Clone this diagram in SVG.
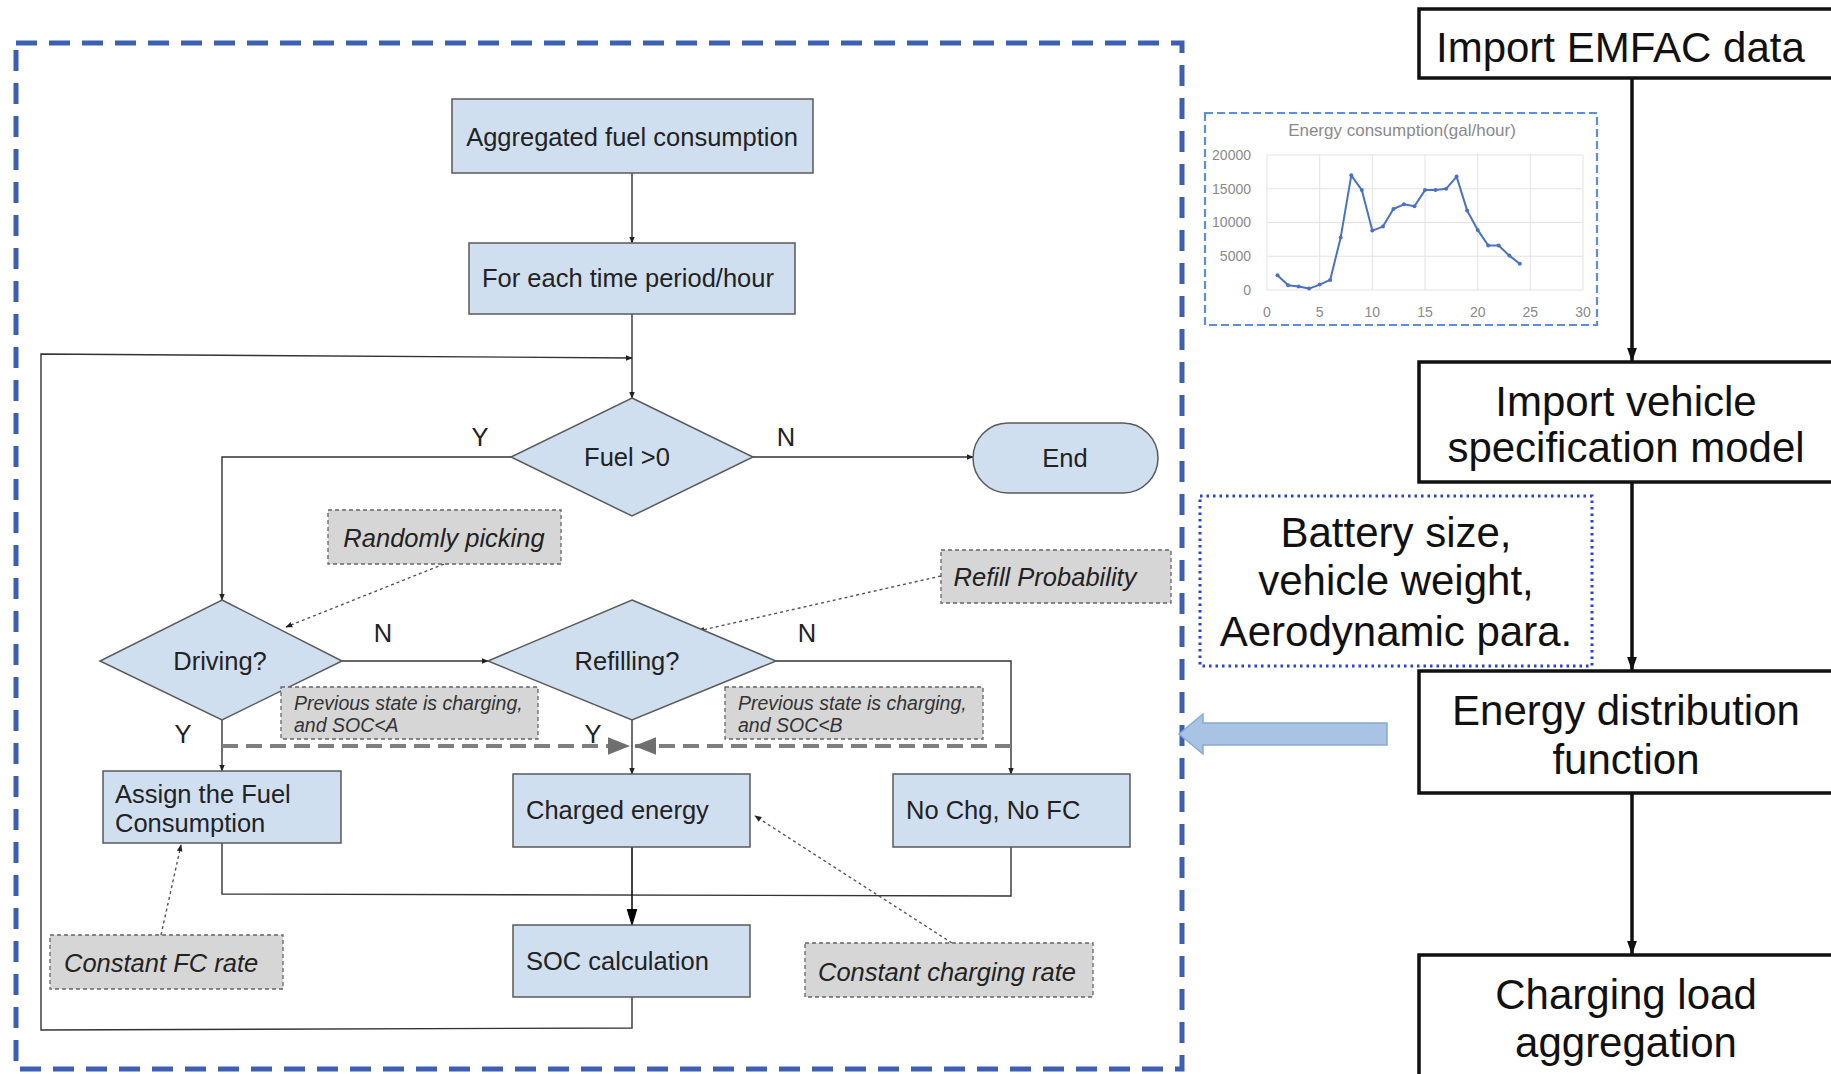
<svg xmlns="http://www.w3.org/2000/svg" width="1831" height="1074" viewBox="0 0 1831 1074">
<defs>
<style>
.box{fill:#cfdff0;stroke:#5a5a5a;stroke-width:1.5}
.note{fill:#d6d6d6;stroke:#666;stroke-width:1.3;stroke-dasharray:4 3}
.t{font-family:"Liberation Sans",Arial,sans-serif;font-size:25.5px;fill:#222}
.ti{font-family:"Liberation Sans",Arial,sans-serif;font-size:25.5px;font-style:italic;fill:#222}
.ts{font-family:"Liberation Sans",Arial,sans-serif;font-size:19.5px;font-style:italic;fill:#333}
.big{font-family:"Liberation Sans",Arial,sans-serif;font-size:42px;fill:#111}
.bbox{fill:#fff;stroke:#111;stroke-width:3.5}
.ln{fill:none;stroke:#333;stroke-width:1.4}
.dot{fill:none;stroke:#555;stroke-width:1.4;stroke-dasharray:3 3}
.gd{fill:none;stroke:#7f7f7f;stroke-width:4;stroke-dasharray:16 8}
.bl{fill:none;stroke:#111;stroke-width:3.5}
.ax{font-family:"Liberation Sans",Arial,sans-serif;font-size:14px;fill:#8a8a8a}
.axt{font-family:"Liberation Sans",Arial,sans-serif;font-size:17px;fill:#8a8a8a}
.grid{stroke:#e3e3e3;stroke-width:1}
</style>
<marker id="a" viewBox="0 0 10 10" refX="9" refY="5" markerWidth="7" markerHeight="7" markerUnits="userSpaceOnUse" orient="auto"><path d="M0,1 L10,5 L0,9 z" fill="#222"/></marker>
<marker id="ab" viewBox="0 0 10 10" refX="9" refY="5" markerWidth="18" markerHeight="18" markerUnits="userSpaceOnUse" orient="auto"><path d="M0,2 L10,5 L0,8 z" fill="#000"/></marker>
<marker id="ag" viewBox="0 0 10 10" refX="10" refY="5" markerWidth="22" markerHeight="22" markerUnits="userSpaceOnUse" orient="auto"><path d="M0,1 L10,5 L0,9 z" fill="#6f6f6f"/></marker>
<marker id="ak" viewBox="0 0 10 10" refX="10" refY="5" markerWidth="14" markerHeight="14" markerUnits="userSpaceOnUse" orient="auto"><path d="M0,1.5 L10,5 L0,8.5 z" fill="#111"/></marker>
</defs>
<rect width="1831" height="1074" fill="#fff"/>

<rect x="16" y="43" width="1166" height="1026" fill="none" stroke="#3d5fb2" stroke-width="5" stroke-dasharray="21 12"/>

<g id="connectors">
<line class="ln" x1="632" y1="173" x2="632" y2="243" marker-end="url(#a)"/>
<line class="ln" x1="632" y1="314" x2="632" y2="398" marker-end="url(#a)"/>
<polyline class="ln" points="753,457 973,457" marker-end="url(#a)"/>
<polyline class="ln" points="511,457 222,457 222,600" marker-end="url(#a)"/>
<line class="ln" x1="342" y1="661" x2="488" y2="661" marker-end="url(#a)"/>
<polyline class="ln" points="776,661 1011,661 1011,774" marker-end="url(#a)"/>
<line class="ln" x1="222" y1="720" x2="222" y2="771" marker-end="url(#a)"/>
<line class="ln" x1="632" y1="720" x2="632" y2="774" marker-end="url(#a)"/>
<polyline class="ln" points="222,843 222,894 1011,896 1011,847"/>
<line x1="632" y1="847" x2="632" y2="925" stroke="#111" stroke-width="1.6" marker-end="url(#ab)"/>
<polyline class="ln" points="632,997 632,1028 41,1030 41,354 632,358" marker-end="url(#a)"/>
<line class="gd" x1="222" y1="746" x2="630" y2="746" marker-end="url(#ag)"/>
<line class="gd" x1="1011" y1="746" x2="634" y2="746" marker-end="url(#ag)"/>
<line class="dot" x1="444" y1="564" x2="286" y2="627" marker-end="url(#a)"/>
<line class="dot" x1="941" y1="576" x2="698" y2="631" marker-end="url(#a)"/>
<line class="dot" x1="161" y1="935" x2="181" y2="845" marker-end="url(#a)"/>
<line class="dot" x1="952" y1="943" x2="755" y2="816" marker-end="url(#a)"/>
<line class="bl" x1="1632" y1="78" x2="1632" y2="362" marker-end="url(#ak)"/>
<line class="bl" x1="1632" y1="482" x2="1632" y2="671" marker-end="url(#ak)"/>
<line class="bl" x1="1632" y1="793" x2="1632" y2="955" marker-end="url(#ak)"/>
</g>

<g id="labels">
<text class="t" x="480" y="446" text-anchor="middle">Y</text>
<text class="t" x="786" y="446" text-anchor="middle">N</text>
<text class="t" x="383" y="642" text-anchor="middle">N</text>
<text class="t" x="807" y="642" text-anchor="middle">N</text>
<text class="t" x="183" y="743" text-anchor="middle">Y</text>
<text class="t" x="593" y="743" text-anchor="middle">Y</text>
</g>

<g id="n-aggregated"><rect class="box" x="452" y="99" width="361" height="74"/><text class="t" x="632" y="146" text-anchor="middle">Aggregated fuel consumption</text></g>
<g id="n-foreach"><rect class="box" x="469" y="243" width="326" height="71"/><text class="t" x="482" y="287">For each time period/hour</text></g>
<g id="n-fuel"><polygon class="box" points="632,398 753,457 632,516 511,457"/><text class="t" x="627" y="466" text-anchor="middle">Fuel &gt;0</text></g>
<g id="n-end"><rect class="box" x="973" y="423" width="185" height="70" rx="35"/><text class="t" x="1065" y="467" text-anchor="middle">End</text></g>
<g id="n-driving"><polygon class="box" points="222,600 342,661 222,720 100,661"/><text class="t" x="220" y="670" text-anchor="middle">Driving?</text></g>
<g id="n-refilling"><polygon class="box" points="632,600 776,661 632,720 488,661"/><text class="t" x="627" y="670" text-anchor="middle">Refilling?</text></g>
<g id="n-random"><rect class="note" x="328" y="510" width="233" height="54"/><text class="ti" x="444" y="547" text-anchor="middle">Randomly picking</text></g>
<g id="n-refillprob"><rect class="note" x="941" y="550" width="230" height="53"/><text class="ti" x="1045" y="586" text-anchor="middle">Refill Probability</text></g>
<g id="n-prevA"><rect class="note" x="281" y="687" width="257" height="52"/><text class="ts" x="294" y="710">Previous state is charging,</text><text class="ts" x="294" y="732">and SOC&lt;A</text></g>
<g id="n-prevB"><rect class="note" x="725" y="687" width="258" height="52"/><text class="ts" x="738" y="710">Previous state is charging,</text><text class="ts" x="738" y="732">and SOC&lt;B</text></g>
<g id="n-assign"><rect class="box" x="103" y="771" width="238" height="72"/><text class="t" x="115" y="803">Assign the Fuel</text><text class="t" x="115" y="832">Consumption</text></g>
<g id="n-charged"><rect class="box" x="513" y="774" width="237" height="73"/><text class="t" x="526" y="819">Charged energy</text></g>
<g id="n-nochg"><rect class="box" x="893" y="774" width="237" height="73"/><text class="t" x="906" y="819">No Chg, No FC</text></g>
<g id="n-soc"><rect class="box" x="513" y="925" width="237" height="72"/><text class="t" x="526" y="970">SOC calculation</text></g>
<g id="n-fcrate"><rect class="note" x="50" y="935" width="233" height="54"/><text class="ti" x="64" y="972">Constant FC rate</text></g>
<g id="n-chgrate"><rect class="note" x="805" y="943" width="288" height="54"/><text class="ti" x="818" y="981">Constant charging rate</text></g>

<g id="n-bigarrow"><polygon points="1387,723 1203,723 1203,714 1179,734 1203,754 1203,745 1387,745" fill="#a9c3e4" stroke="#8aa8d4" stroke-width="1.5"/></g>

<g id="n-chart">
<rect x="1205" y="113" width="392" height="212" fill="#fff" stroke="#5b8fdb" stroke-width="2.2" stroke-dasharray="8 4"/>
<text class="axt" x="1402" y="136" text-anchor="middle">Energy consumption(gal/hour)</text>
<g class="grid">
<line x1="1267" y1="155" x2="1583" y2="155"/><line x1="1267" y1="188.75" x2="1583" y2="188.75"/><line x1="1267" y1="222.5" x2="1583" y2="222.5"/><line x1="1267" y1="256.25" x2="1583" y2="256.25"/><line x1="1267" y1="290" x2="1583" y2="290"/>
<line x1="1267" y1="155" x2="1267" y2="290"/><line x1="1319.7" y1="155" x2="1319.7" y2="290"/><line x1="1372.3" y1="155" x2="1372.3" y2="290"/><line x1="1425" y1="155" x2="1425" y2="290"/><line x1="1477.7" y1="155" x2="1477.7" y2="290"/><line x1="1530.3" y1="155" x2="1530.3" y2="290"/><line x1="1583" y1="155" x2="1583" y2="290"/>
</g>
<g class="ax" text-anchor="end">
<text x="1251" y="160">20000</text><text x="1251" y="194">15000</text><text x="1251" y="227">10000</text><text x="1251" y="261">5000</text><text x="1251" y="295">0</text>
</g>
<g class="ax" text-anchor="middle">
<text x="1267" y="317">0</text><text x="1319.7" y="317">5</text><text x="1372.3" y="317">10</text><text x="1425" y="317">15</text><text x="1477.7" y="317">20</text><text x="1530.3" y="317">25</text><text x="1583" y="317">30</text>
</g>
<polyline fill="none" stroke="#4a72c4" stroke-width="2" stroke-linejoin="round" points="1277.5,275.2 1288.1,285.3 1298.6,286.6 1309.1,288.6 1319.7,284.6 1330.2,279.9 1340.7,237.4 1351.3,175.3 1361.8,190.1 1372.3,230.6 1382.9,226.6 1393.4,209 1403.9,204.3 1414.5,206.3 1425,190.1 1435.5,190.1 1446.1,188.8 1456.6,176.6 1467.1,210.4 1477.7,229.9 1488.2,245.5 1498.7,245.5 1509.3,255.6 1519.8,263.7"/>
<g fill="#4a72c4">
<circle cx="1277.5" cy="275.2" r="2"/><circle cx="1288.1" cy="285.3" r="2"/><circle cx="1298.6" cy="286.6" r="2"/><circle cx="1309.1" cy="288.6" r="2"/><circle cx="1319.7" cy="284.6" r="2"/><circle cx="1330.2" cy="279.9" r="2"/><circle cx="1340.7" cy="237.4" r="2"/><circle cx="1351.3" cy="175.3" r="2"/><circle cx="1361.8" cy="190.1" r="2"/><circle cx="1372.3" cy="230.6" r="2"/><circle cx="1382.9" cy="226.6" r="2"/><circle cx="1393.4" cy="209" r="2"/><circle cx="1403.9" cy="204.3" r="2"/><circle cx="1414.5" cy="206.3" r="2"/><circle cx="1425" cy="190.1" r="2"/><circle cx="1435.5" cy="190.1" r="2"/><circle cx="1446.1" cy="188.8" r="2"/><circle cx="1456.6" cy="176.6" r="2"/><circle cx="1467.1" cy="210.4" r="2"/><circle cx="1477.7" cy="229.9" r="2"/><circle cx="1488.2" cy="245.5" r="2"/><circle cx="1498.7" cy="245.5" r="2"/><circle cx="1509.3" cy="255.6" r="2"/><circle cx="1519.8" cy="263.7" r="2"/>
</g>
</g>

<g id="n-battery"><rect x="1200" y="496" width="392" height="170" fill="#fff" stroke="#2a3fe0" stroke-width="3" stroke-dasharray="2.5 4"/>
<text class="big" x="1396" y="547" text-anchor="middle">Battery size,</text>
<text class="big" x="1396" y="595" text-anchor="middle">vehicle weight,</text>
<text class="big" x="1396" y="646" text-anchor="middle">Aerodynamic para.</text></g>

<g id="n-emfac"><rect class="bbox" x="1419" y="9" width="420" height="69"/><text class="big" x="1436" y="62">Import EMFAC data</text></g>
<g id="n-vehicle"><rect class="bbox" x="1419" y="362" width="420" height="120"/><text class="big" x="1626" y="416" text-anchor="middle">Import vehicle</text><text class="big" x="1626" y="462" text-anchor="middle">specification model</text></g>
<g id="n-energy"><rect class="bbox" x="1419" y="671" width="420" height="122"/><text class="big" x="1626" y="725" text-anchor="middle">Energy distribution</text><text class="big" x="1626" y="774" text-anchor="middle">function</text></g>
<g id="n-charging"><rect class="bbox" x="1419" y="955" width="420" height="130"/><text class="big" x="1626" y="1009" text-anchor="middle">Charging load</text><text class="big" x="1626" y="1057" text-anchor="middle">aggregation</text></g>
</svg>
